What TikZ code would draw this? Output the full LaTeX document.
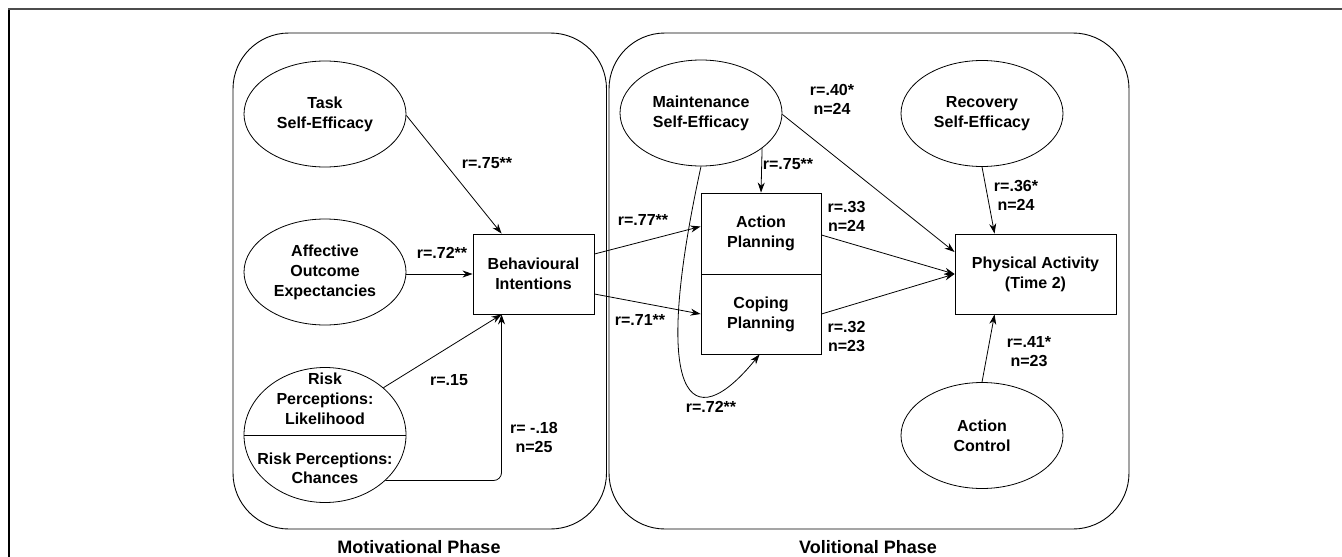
\documentclass[tikz,border=0pt]{standalone}
\usepackage{fontspec}
\setmainfont{Liberation Sans}
\usetikzlibrary{shapes.geometric,arrows.meta,calc}
\begin{document}
\begin{tikzpicture}[x=1pt,y=-1pt,
  every node/.style={font=\bfseries\fontsize{16}{20}\selectfont},
  ell/.style={draw,ellipse,line width=0.8pt,minimum width=162pt,minimum height=106pt,inner sep=0pt,align=center},
  boxn/.style={draw,rectangle,line width=0.9pt,minimum width=121pt,minimum height=80pt,inner sep=0pt,align=center},
  phase/.style={draw,line width=0.9pt,rounded corners=56pt},
  lab/.style={align=center,inner sep=0pt,font=\bfseries\fontsize{16}{19}\selectfont},
  arr/.style={draw,line width=0.8pt,-{Stealth[length=10pt,width=7pt]}},
  ptitle/.style={font=\bfseries\fontsize{18}{20}\selectfont,inner sep=0pt}
]
\useasboundingbox (0,0) rectangle (1342,557);
% outer frame
\draw[black,line width=1.5pt] (9,557) -- (9,9);
\draw[black!70,line width=2pt] (8.25,9) -- (1342,9);
% phase boxes
\draw[phase] (233,33) rectangle (606.5,529);
\draw[phase] (609,33) rectangle (1129,529);
\node[ptitle] (mph) at (419,547) {Motivational Phase};
\node[ptitle] (vph) at (868,547) {Volitional Phase};
% nodes
\node[ell] (task) at (325,114) {Task\\Self-Efficacy};
\node[ell] (aff) at (325,272) {Affective\\Outcome\\Expectancies};
\node[ell,minimum height=135pt] (risk) at (325,435) {};
\draw[line width=0.8pt] (risk.west) -- (risk.east);
\node[lab,font=\bfseries\fontsize{16}{20}\selectfont] (riskL) at (325,399) {Risk\\Perceptions:\\Likelihood};
\node[lab,font=\bfseries\fontsize{16}{19}\selectfont] (riskC) at (325,468) {Risk Perceptions:\\Chances};
\node[boxn] (bi) at (533.5,274) {Behavioural\\Intentions};
\node[ell] (maint) at (701,113) {Maintenance\\Self-Efficacy};
\node[ell] (rec) at (982,113.5) {Recovery\\Self-Efficacy};
\node[boxn,minimum width=120pt,minimum height=81pt] (ap) at (761,233.5) {Action\\Planning};
\node[boxn,minimum width=120pt,minimum height=80pt] (cp) at (761,314) {Coping\\Planning};
\node[boxn,minimum width=161pt] (pa) at (1035.5,274) {Physical Activity\\(Time 2)};
\node[ell] (ac) at (982,435.5) {Action\\Control};
% helper coordinates
\coordinate (biN) at ($(bi.north west)+(29,0)$);
\coordinate (biS) at ($(bi.south west)+(29,0)$);
\coordinate (paN) at ($(pa.north west)+(40,0)$);
\coordinate (paS) at ($(pa.south west)+(40,0)$);
\coordinate (cpS) at ($(cp.south west)+(59,0)$);
% connectors
\path[arr] (task.-1) -- (biN);
\path[arr] (aff.east |- bi.west) -- (bi.west);
\path[arr] (risk.39) -- (biS);
\path[arr,rounded corners=8pt] (risk.-37) -| (biS);
\path[arr] ($(bi.east)+(0,-20)$) -- ($(ap.west)+(0,-7)$);
\path[arr] ($(bi.east)+(0,20)$) -- (cp.west);
\path[arr] (maint.-30.7) -- (ap.north);
\path[arr] (maint.south) .. controls (650,400) and (690,440) .. (cpS);
\path[arr] (maint.-1) -- ($(pa.west)+(0,-22)$);
\path[arr] ($(ap.east)+(0,1.5)$) -- (pa.west);
\path[arr] (cp.east) -- (pa.west);
\path[arr] (rec.south) -- (paN);
\path[arr] (ac.north) -- (paS);
% labels
\node[lab] (l1) at (487,163) {r=.75**};
\node[lab] (l2) at (442,253) {r=.72**};
\node[lab] (l3) at (449,380) {r=.15};
\node[lab] (l4) at (534,437.5) {r= -.18\\n=25};
\node[lab] (l5) at (643,220) {r=.77**};
\node[lab] (l6) at (640,320) {r=.71**};
\node[lab] (l7) at (788,164) {r=.75**};
\node[lab] (l8) at (832,99) {r=.40*\\n=24};
\node[lab] (l9) at (846.5,216) {r=.33\\n=24};
\node[lab] (l10) at (846.5,336.5) {r=.32\\n=23};
\node[lab] (l11) at (1016,195) {r=.36*\\n=24};
\node[lab] (l12) at (1029,351.5) {r=.41*\\n=23};
\node[lab] (l13) at (711,407) {r=.72**};
\end{tikzpicture}
\end{document}
